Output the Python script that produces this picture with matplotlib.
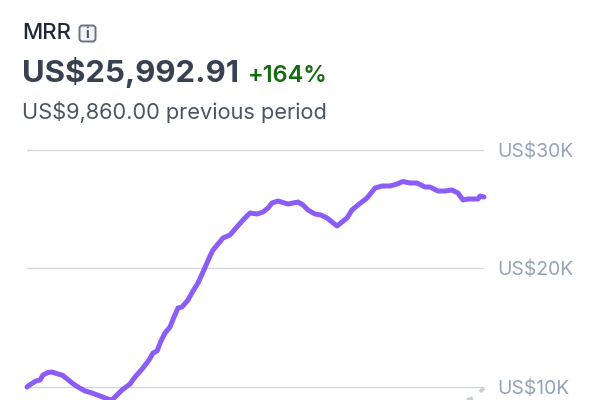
import matplotlib
matplotlib.use("Agg")
import matplotlib.pyplot as plt
from matplotlib.patches import FancyBboxPatch

plt.rcParams['font.family'] = ['Inter', 'DejaVu Sans']

# current period
days = [0, 4, 9, 13, 16, 21, 25, 31, 35, 39, 45, 51, 58, 65, 73, 81, 85, 90, 95, 103, 108, 116, 122, 126,
        130, 134, 138, 143, 147, 151, 155, 161, 166, 171, 176, 180, 183, 186, 191, 196, 203, 209, 216,
        223, 230, 236, 241, 245, 251, 261, 271, 276, 281, 288, 294, 300, 305, 310, 315, 320, 325, 331,
        340, 348, 355, 363, 370, 376, 383, 390, 398, 403, 411, 418, 425, 431, 436, 441, 451, 453, 457]
mrr = [9957, 10211, 10464, 10548, 10970, 11181, 11223, 11054, 10970, 10717, 10295, 9957, 9620, 9451,
       9198, 8945, 8860, 9282, 9704, 10211, 10801, 11561, 12236, 12827, 12995, 13839, 14514, 15021,
       15865, 16624, 16709, 17299, 18059, 18734, 19662, 20422, 21012, 21519, 22025, 22531, 22785,
       23375, 24050, 24641, 24557, 24726, 25063, 25485, 25654, 25401, 25570, 25316, 24894, 24557,
       24472, 24219, 23882, 23544, 23882, 24219, 24894, 25316, 25907, 26751, 26920, 26920, 27089,
       27300, 27173, 27173, 26835, 26835, 26498, 26498, 26582, 26329, 25738, 25823, 25823, 26076, 25991]

# previous period, only its end shows above the crop
prev_days = [440, 446, 457]
prev_mrr = [8860, 9029, 9860]

ticks = [10000, 20000, 30000]
tick_labels = ['US$10K', 'US$20K', 'US$30K']

fig = plt.figure(figsize=(6, 4), dpi=100)

ax = fig.add_axes([27 / 600, 0, 457 / 600, 260 / 400])
ax.plot(prev_days, prev_mrr, color='#c3ccd8', lw=2.6, ls=(0, (1.7, 2.6)), clip_on=False, zorder=3)
ax.plot(days, mrr, color='#8b5cf6', lw=3.6, solid_joinstyle='round', solid_capstyle='round',
        clip_on=False, zorder=4)
ax.set_xlim(0, 457)
ax.set_ylim(8861, 30802)
ax.set_yticks(ticks)
ax.set_yticklabels(tick_labels)
ax.set_xticks([])
ax.yaxis.tick_right()
ax.tick_params(axis='y', length=0, pad=9.5, labelsize=13.9, labelcolor='#94a3b8')
ax.grid(axis='y', color='#d2d7de', lw=1)
ax.set_axisbelow(True)
for s in ax.spines.values():
    s.set_visible(False)
ax.patch.set_alpha(0)

# header
fig.text(22 / 600, 1 - 33 / 400, 'MRR', fontsize=16, color='#1f2937', fontweight='medium', va='center')
fig.text(22 / 600, 1 - 73 / 400, 'US$25,992.91', fontsize=22.4, color='#374151', fontweight='bold', va='center')
fig.text(248 / 600, 1 - 76 / 400, '+164%', fontsize=16.9, color='#166c10', fontweight='semibold', va='center')
fig.text(22 / 600, 1 - 112 / 400, 'US$9,860.00 previous period', fontsize=15.7, color='#4b5563', va='center')

# info icon
icon = fig.add_axes([0, 0, 1, 1])
icon.set_xlim(0, 600)
icon.set_ylim(400, 0)
icon.axis('off')
icon.add_patch(FancyBboxPatch((79.5, 25.5), 16, 16, boxstyle='round,pad=0,rounding_size=3',
                              fc='#f3f4f6', ec='#6b7280', lw=1.4))
icon.text(87.5, 33.5, 'i', fontsize=10, fontweight='bold', color='#4b5563', ha='center', va='center')

fig.savefig('out.png', dpi=100)
